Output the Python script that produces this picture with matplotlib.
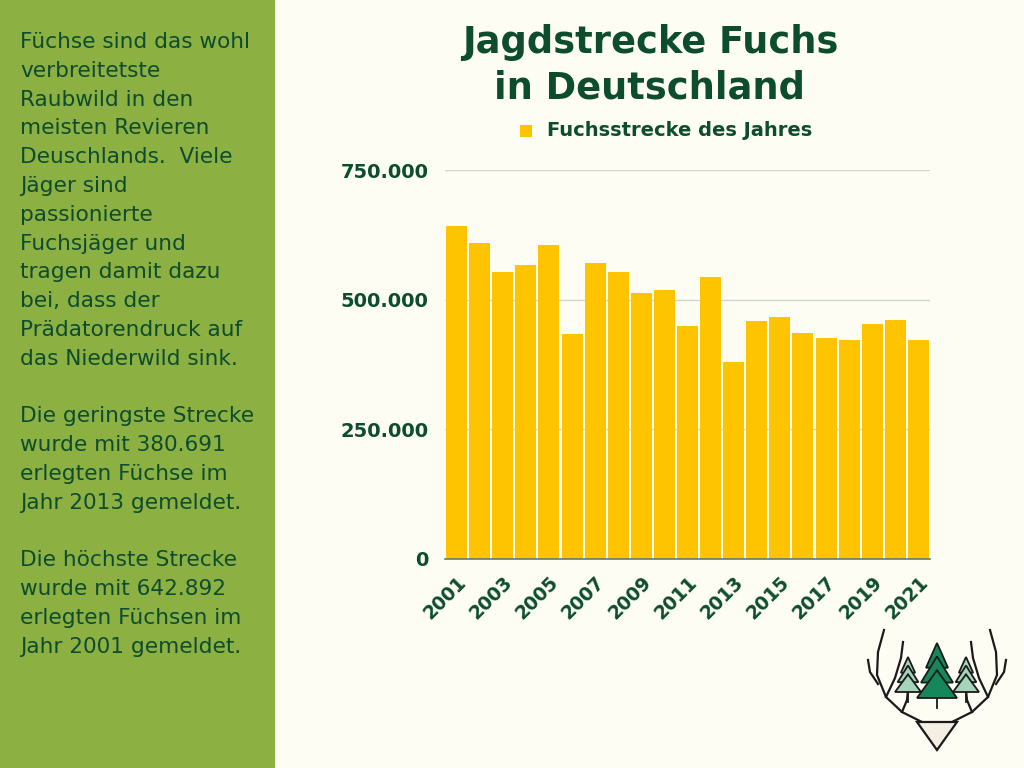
import matplotlib
matplotlib.use("Agg")
import matplotlib.pyplot as plt
import matplotlib.patches as mpatches
from matplotlib.ticker import FuncFormatter

# ── Daten ──────────────────────────────────────────────────────────────
jahre = list(range(2001, 2022))
strecke = [642892, 609000, 553500, 567000, 605000, 433000, 570000, 554000,
           512000, 519000, 450000, 544000, 380691, 458000, 466500, 436000,
           426500, 423000, 454000, 460000, 422000]
y_ticks = [0, 250000, 500000, 750000]

# ── Farben ─────────────────────────────────────────────────────────────
BG       = "#FDFDF4"
GRUEN    = "#8DB043"
DUNKEL   = "#0D4D2E"
GELB     = "#FFC400"
GRID     = "#CDD5CC"

plt.rcParams["font.family"] = ["DejaVu Sans"]

fig = plt.figure(figsize=(10.24, 7.68), dpi=100)
fig.patch.set_facecolor(BG)

# linkes Panel
fig.patches.append(mpatches.Rectangle((0, 0), 275 / 1024, 1, transform=fig.transFigure,
                                      facecolor=GRUEN, edgecolor="none", zorder=0))

text1 = ("Füchse sind das wohl\nverbreitetste\nRaubwild in den\nmeisten Revieren\n"
         "Deuschlands.  Viele\nJäger sind\npassionierte\nFuchsjäger und\n"
         "tragen damit dazu\nbei, dass der\nPrädatorendruck auf\ndas Niederwild sink.\n\n"
         "Die geringste Strecke\nwurde mit 380.691\nerlegten Füchse im\nJahr 2013 gemeldet.\n\n"
         "Die höchste Strecke\nwurde mit 642.892\nerlegten Füchsen im\nJahr 2001 gemeldet.")
fig.text(20 / 1024, 1 - 32 / 768, text1, ha="left", va="top", fontsize=15.6,
         color=DUNKEL, linespacing=1.55)

# Titel
fig.text(650 / 1024, 1 - 65 / 768, "Jagdstrecke Fuchs\nin Deutschland", ha="center",
         va="center", fontsize=26.5, fontweight="bold", color=DUNKEL, linespacing=1.3)

# Legende
fig.patches.append(mpatches.Rectangle((520 / 1024, 1 - 137 / 768), 12 / 1024, 12 / 768,
                                      transform=fig.transFigure, facecolor=GELB,
                                      edgecolor="none"))
fig.text(547 / 1024, 1 - 131 / 768, "Fuchsstrecke des Jahres", ha="left", va="center",
         fontsize=14, fontweight="bold", color=DUNKEL)

# Diagramm
ax = fig.add_axes([445 / 1024, 1 - 559 / 768, 485 / 1024, 389 / 768])
ax.set_facecolor(BG)
x = list(range(len(jahre)))
ax.bar(x, strecke, width=0.91, color=GELB, zorder=3)
ax.set_xlim(-0.5, len(jahre) - 0.5)
ax.set_ylim(0, 750000)
ax.set_yticks(y_ticks)
ax.yaxis.set_major_formatter(FuncFormatter(lambda v, p: f"{int(v):,}".replace(",", ".")))
ax.grid(axis="y", color=GRID, linewidth=1, zorder=0)
ax.set_axisbelow(True)
for s in ["top", "right", "left"]:
    ax.spines[s].set_visible(False)
ax.spines["bottom"].set_color("#5E7F6E")
ax.spines["bottom"].set_linewidth(1.2)
ax.spines["bottom"].set_zorder(4)
ax.tick_params(axis="y", length=0, pad=12, labelsize=14, labelcolor=DUNKEL)
for lbl in ax.get_yticklabels():
    lbl.set_fontweight("bold")
ax.set_xticks(x[::2])
ax.set_xticklabels([str(j) for j in jahre[::2]], rotation=45, ha="right",
                   rotation_mode="anchor", fontsize=13.5, fontweight="bold", color=DUNKEL)
ax.tick_params(axis="x", length=0, pad=10)

# Logo (Geweih mit Bäumen), vereinfacht, in Pixelkoordinaten
lg = fig.add_axes([855 / 1024, 1 - 760 / 768, 165 / 1024, 140 / 768])
lg.set_xlim(855, 1020)
lg.set_ylim(760, 620)
lg.axis("off")
K = "#1A1A1A"
lw = 1.6
mx = 937
for sgn in (-1, 1):
    def px(v):
        return mx + sgn * (mx - v)
    haupt = [(922, 722), (902, 712), (886, 697), (877, 675), (878, 652), (884, 630)]
    lg.plot([px(p[0]) for p in haupt], [p[1] for p in haupt], color=K, lw=lw)
    zacke1 = [(878, 684), (870, 672), (868, 660)]
    lg.plot([px(p[0]) for p in zacke1], [p[1] for p in zacke1], color=K, lw=lw)
    zacke2 = [(902, 712), (907, 700), (908, 690)]
    lg.plot([px(p[0]) for p in zacke2], [p[1] for p in zacke2], color=K, lw=lw)
    zacke3 = [(886, 697), (895, 678), (901, 658), (903, 642)]
    lg.plot([px(p[0]) for p in zacke3], [p[1] for p in zacke3], color=K, lw=lw)
# Kopf
lg.add_patch(mpatches.Polygon([[917, 722], [957, 722], [937, 750]], closed=True,
                              facecolor="#F5EEE2", edgecolor=K, lw=lw, zorder=3))


def baum(cx, top, bottom, breite, farbe):
    h = bottom - top
    for i, (y0, f) in enumerate([(0.45, 0.55), (0.72, 0.8), (1.0, 1.0)]):
        lg.add_patch(mpatches.Polygon(
            [[cx, top + (y0 - 0.45) * h * 0.9 if i else top],
             [cx - breite / 2 * f, top + y0 * h],
             [cx + breite / 2 * f, top + y0 * h]], closed=True,
            facecolor=farbe, edgecolor=K, lw=1.3, zorder=4 + i))
    lg.plot([cx, cx], [bottom, bottom + 10], color=K, lw=1.3, zorder=3)


baum(908, 657, 692, 26, "#A5D4BB")
baum(966, 657, 692, 26, "#A5D4BB")
baum(937, 643, 698, 40, "#16875A")

fig.savefig("out.png", dpi=100, facecolor=BG)
